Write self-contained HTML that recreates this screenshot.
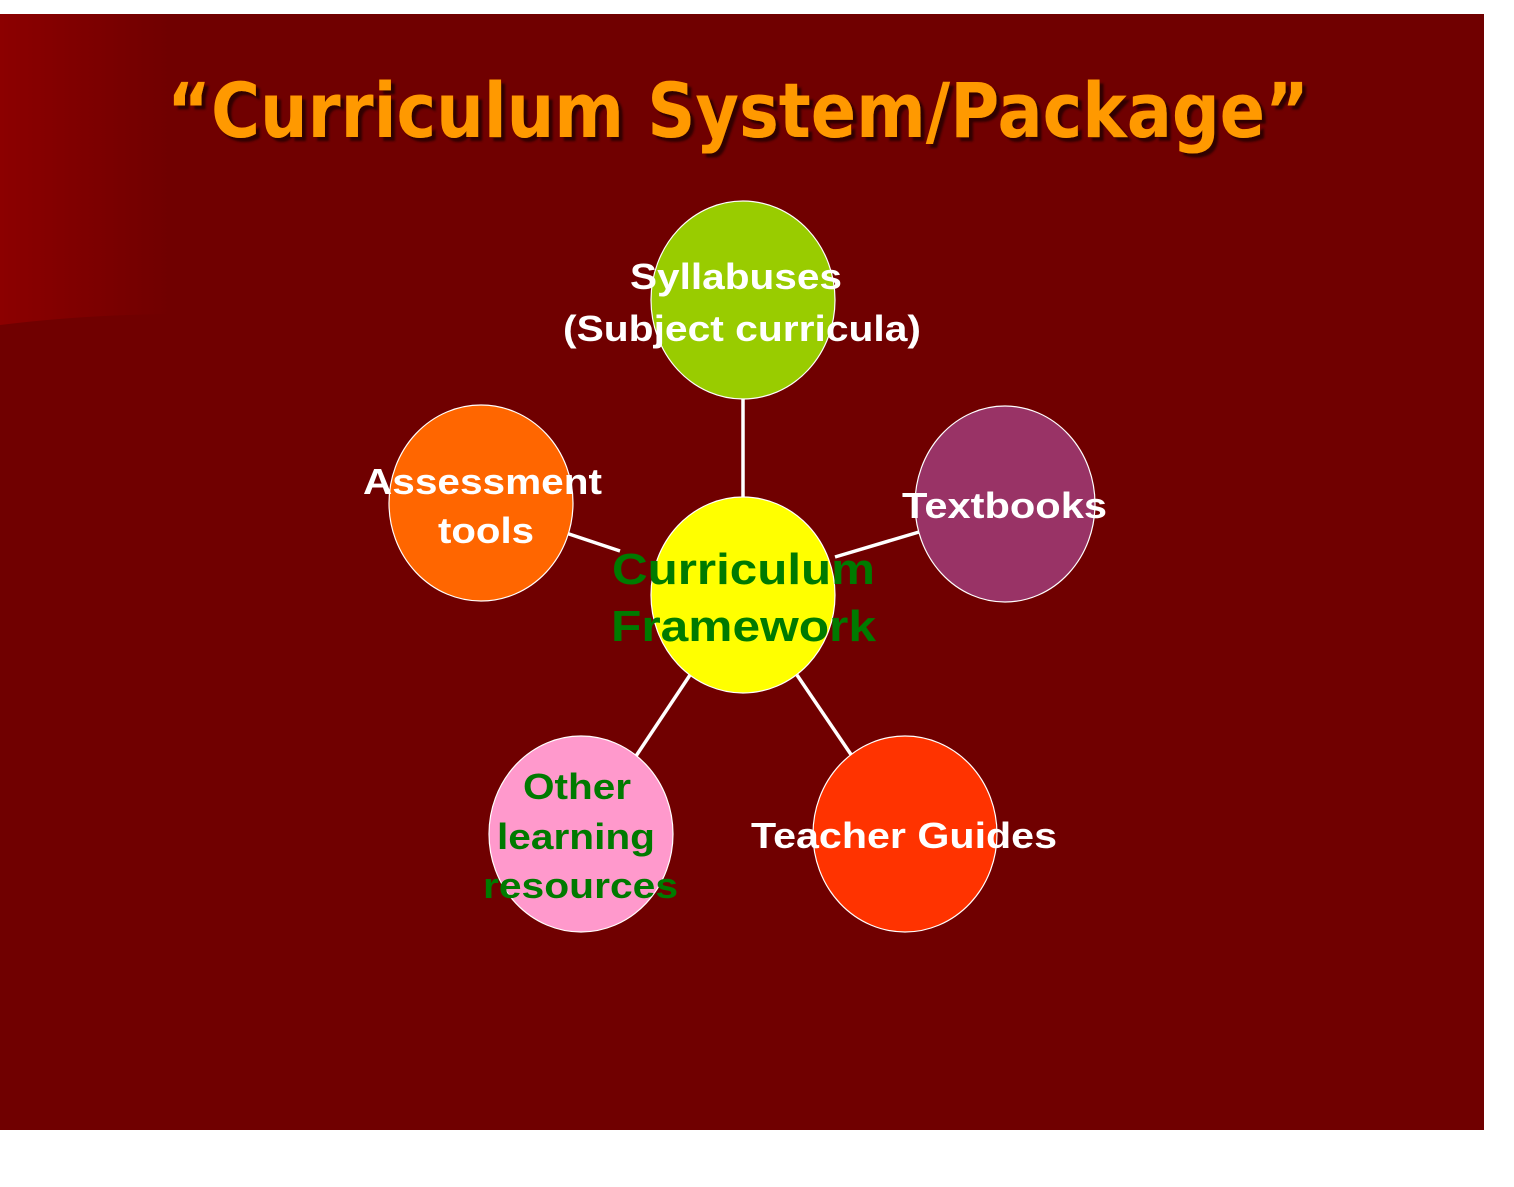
<!DOCTYPE html>
<html><head><style>
html,body{margin:0;padding:0;background:#fff;}
</style></head><body>
<svg width="1514" height="1182" viewBox="0 0 1514 1182" xmlns="http://www.w3.org/2000/svg">
<defs>
<linearGradient id="g" x1="0" y1="0" x2="1" y2="0">
<stop offset="0" stop-color="#8c0000"/><stop offset="1" stop-color="#700000"/>
</linearGradient>
<filter id="sh"><feDropShadow dx="4" dy="4" stdDeviation="1" flood-color="#2a0000" flood-opacity="0.9"/></filter>
</defs>
<rect x="0" y="14" width="1484" height="1116" fill="#700000"/>
<path d="M0 14 H170 V314 Q80 315 0 325 Z" fill="url(#g)"/>
<text x="738" y="137" text-anchor="middle" font-family="DejaVu Sans, Liberation Sans, sans-serif" font-weight="bold" font-size="76" fill="#ff9900" filter="url(#sh)" textLength="1142" lengthAdjust="spacingAndGlyphs">“Curriculum System/Package”</text>
<g stroke="#fff" stroke-width="3.5">
<line x1="743" y1="398" x2="743" y2="498"/>
<line x1="566" y1="533" x2="620" y2="551"/>
<line x1="835" y1="557" x2="919" y2="532"/>
<line x1="690" y1="675" x2="636" y2="756"/>
<line x1="797" y1="675" x2="852" y2="756"/>
</g>
<g stroke="#fff" stroke-width="1.2">
<ellipse cx="743" cy="300" rx="92" ry="99" fill="#99cc00"/>
<ellipse cx="481" cy="503" rx="92" ry="98" fill="#ff6600"/>
<ellipse cx="1005" cy="504" rx="90" ry="98" fill="#993366"/>
<ellipse cx="743" cy="595" rx="92" ry="98" fill="#ffff00"/>
<ellipse cx="581" cy="834" rx="92" ry="98" fill="#ff99cc"/>
<ellipse cx="905" cy="834" rx="92" ry="98" fill="#ff3300"/>
</g>
<g font-family="Liberation Sans, Arial, sans-serif" font-weight="bold" font-size="36" fill="#fff">
<text x="630" y="289" textLength="212" lengthAdjust="spacingAndGlyphs">Syllabuses</text>
<text x="563" y="341" textLength="358" lengthAdjust="spacingAndGlyphs">(Subject curricula)</text>
<text x="363" y="494" textLength="239" lengthAdjust="spacingAndGlyphs">Assessment</text>
<text x="438" y="543" textLength="96" lengthAdjust="spacingAndGlyphs">tools</text>
<text x="902" y="518" textLength="205" lengthAdjust="spacingAndGlyphs">Textbooks</text>
<text x="751" y="848" textLength="306" lengthAdjust="spacingAndGlyphs">Teacher Guides</text>
<g fill="#007a00">
<text x="523" y="799" textLength="108" lengthAdjust="spacingAndGlyphs">Other</text>
<text x="497" y="849" textLength="158" lengthAdjust="spacingAndGlyphs">learning</text>
<text x="483" y="898" textLength="195" lengthAdjust="spacingAndGlyphs">resources</text>
<text x="612" y="584" font-size="44" textLength="263" lengthAdjust="spacingAndGlyphs">Curriculum</text>
<text x="611" y="641" font-size="44" textLength="265" lengthAdjust="spacingAndGlyphs">Framework</text>
</g>
</g>
</svg>
</body></html>
